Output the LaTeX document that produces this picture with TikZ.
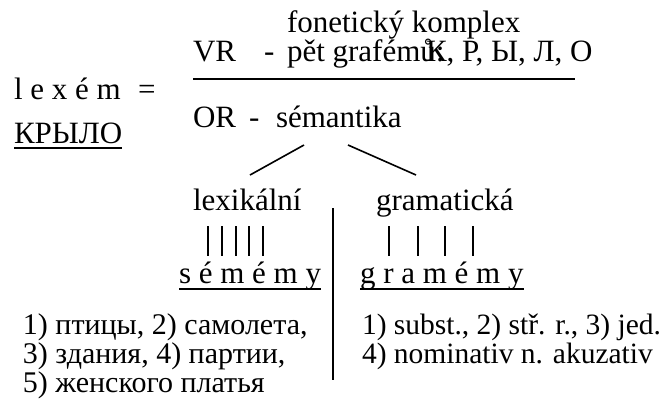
\documentclass[tikz,border=0pt]{standalone}
\usepackage{fontspec}
\setmainfont{Liberation Serif}
\usetikzlibrary{calc}
\tikzset{
  txt/.style={anchor=base west,inner sep=0pt,outer sep=0pt,font=\fontsize{31}{36}\selectfont},
  list/.style={txt,font=\fontsize{30}{36}\selectfont},
  small/.style={txt,font=\fontsize{29.5}{36}\selectfont},
  rule/.style={line width=1.6pt},
  bar/.style={line width=1.5pt},
  uline/.style={line width=1.4pt},
}
\begin{document}
\begin{tikzpicture}[x=1pt,y=-1pt]
\useasboundingbox (0,0) rectangle (661,408);
% top block
\node[txt] (fon) at (287,32) {fonetický komplex};
\node[txt] (vr) at (193,61) {VR};
\node[txt] (vrdash) at (264,61) {-};
\node[txt] (graf) at (287,61) {pět grafémů:};
\node[txt] (letters) at (426,61) {К, Р, Ы, Л, О};
\coordinate (rl) at (193,79);
\coordinate (rr) at (575,79);
\draw[rule] (rl) -- (rr);
\node[txt] (lex) at (14,99) {l e x é m};
\node[txt] (eq) at (138,99) {=};
\node[txt] (krylo) at (14,143) {КРЫЛО};
\draw[uline] ($(krylo.base west)+(0,5)$) -- ($(krylo.base east)+(0,5)$);
\node[txt] (or) at (193,127) {OR};
\node[txt] (ordash) at (249,127) {-};
\node[txt] (sem) at (276,127) {sémantika};
% branches
\coordinate (bl1) at (304,145);
\coordinate (bl2) at (250,175);
\coordinate (br1) at (348,145);
\coordinate (br2) at (416,175);
\draw[rule] (bl1) -- (bl2);
\draw[rule] (br1) -- (br2);
\node[txt] (lexik) at (193,210) {lexikální};
\node[txt] (gram) at (376,210) {gramatická};
% bars
\foreach \x in {208,222,236,249,263}{\draw[bar] (\x,226) -- (\x,256);}
\foreach \x in {389,418,445,473}{\draw[bar] (\x,226) -- (\x,256);}
% vertical divider
\coordinate (vt) at (333,208);
\coordinate (vb) at (333,380);
\draw[line width=1.8pt] (vt) -- (vb);
\node[txt] (sememy) at (179,283) {s é m é m y};
\draw[uline] ($(sememy.base west)+(0,6)$) -- ($(sememy.base east)+(0,6)$);
\node[txt] (grammy) at (360,283) {g r a m é m y};
\draw[uline] ($(grammy.base west)+(0,6)$) -- ($(grammy.base east)+(0,6)$);
% lists
\node[list] (l1) at (23,334) {1) птицы, 2) самолета,};
\node[list] (l2) at (23,363) {3) здания, 4) партии,};
\node[list] (l3) at (23,392) {5) женского платья};
\node[small] (r1) at (362,334) {1) subst., 2) stř. r., 3) jed.};
\node[small] (r2) at (362,363) {4) nominativ n. akuzativ};
\end{tikzpicture}
\end{document}
